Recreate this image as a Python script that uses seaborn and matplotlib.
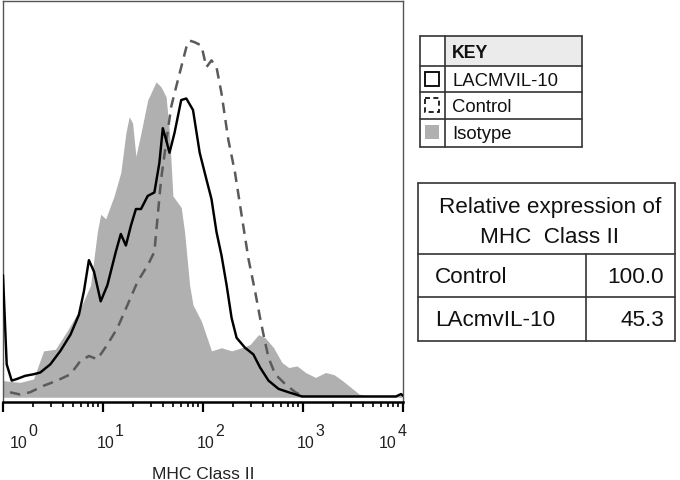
import numpy as np
import pandas as pd
import matplotlib
matplotlib.use('Agg')
import matplotlib.pyplot as plt
import matplotlib.transforms as mtransforms
from matplotlib.patches import Rectangle
import seaborn as sns

sns.set_style('white')
plt.rcParams['font.family'] = ['Liberation Sans', 'DejaVu Sans']

# histogram traces: log10(MHC Class II) and % of max
iso_log = [0.0, 0.17, 0.305, 0.406, 0.524, 0.641, 0.775, 0.876, 0.943, 0.977, 1.027, 1.111,
           1.178, 1.229, 1.262, 1.296, 1.329, 1.38, 1.447, 1.531, 1.581, 1.631, 1.665, 1.699,
           1.782, 1.816, 1.866, 1.9, 1.984, 2.085, 2.185, 2.286, 2.387, 2.471, 2.555, 2.622,
           2.706, 2.79, 2.857, 2.941, 3.025, 3.125, 3.226, 3.31, 3.394, 3.478, 3.562, 3.662,
           3.93, 4.0]
iso_pct = [4.2, 3.75, 4.6, 11.7, 12.1, 16.7, 22.5, 28.3, 41.7, 46.2, 45.0, 50.8,
           56.7, 66.7, 70.8, 69.2, 60.8, 66.7, 75.0, 79.6, 78.3, 75.8, 66.7, 50.8,
           47.9, 41.7, 28.3, 23.3, 19.2, 11.7, 12.5, 11.7, 12.5, 13.3, 15.8, 15.0,
           12.5, 8.75, 7.5, 7.9, 6.25, 5.0, 6.25, 5.7, 4.2, 2.5, 0.8, 0.2,
           0.2, 0.7]

il10_log = [0.0, 0.037, 0.087, 0.138, 0.221, 0.305, 0.373, 0.473, 0.574, 0.675, 0.759, 0.809,
            0.859, 0.91, 0.977, 1.044, 1.128, 1.178, 1.229, 1.279, 1.329, 1.38, 1.447, 1.514,
            1.564, 1.598, 1.631, 1.665, 1.715, 1.782, 1.833, 1.9, 1.967, 2.034, 2.085, 2.135,
            2.185, 2.236, 2.286, 2.336, 2.42, 2.504, 2.571, 2.655, 2.756, 2.857, 2.991, 3.93,
            3.98, 4.0]
il10_pct = [30.8, 8.3, 4.2, 4.6, 5.4, 5.8, 6.25, 8.3, 11.7, 15.8, 20.8, 26.7,
            34.6, 31.7, 24.2, 28.3, 36.7, 41.2, 38.3, 43.3, 47.5, 47.5, 50.8, 51.7,
            59.2, 67.9, 65.0, 61.7, 66.7, 75.0, 75.4, 72.5, 61.7, 55.0, 50.0, 41.7,
            35.8, 28.3, 20.0, 15.0, 12.5, 10.8, 7.5, 4.2, 2.1, 1.25, 0.2, 0.2,
            0.8, 0.4]

ctrl_log = [0.07, 0.17, 0.27, 0.406, 0.54, 0.675, 0.775, 0.859, 0.943, 1.044, 1.145, 1.245,
            1.346, 1.447, 1.514, 1.547, 1.581, 1.631, 1.682, 1.715, 1.782, 1.833, 1.866, 1.917,
            1.984, 2.034, 2.085, 2.135, 2.185, 2.253, 2.32, 2.387, 2.454, 2.521, 2.571, 2.605,
            2.655, 2.722, 2.823, 2.924, 2.991]
ctrl_pct = [1.25, 0.7, 1.25, 2.9, 4.2, 5.8, 9.2, 10.4, 9.6, 13.3, 17.5, 23.3,
            29.2, 33.3, 36.7, 45.8, 55.0, 64.2, 73.3, 76.7, 83.3, 88.3, 90.0, 89.6,
            88.75, 83.3, 85.0, 83.3, 76.7, 65.0, 56.7, 45.8, 35.0, 26.7, 20.0, 15.8,
            10.0, 5.8, 3.3, 1.25, 0.4]

key_labels = ['LACMVIL-10', 'Control', 'Isotype']
rel_title = ['Relative expression of', 'MHC  Class II']
rel_groups = ['Control', 'LAcmvIL-10']
rel_values = [100.0, 45.3]

decades = [0, 1, 2, 3, 4]

iso = pd.DataFrame({'x': np.power(10.0, iso_log), 'y': iso_pct})
il10 = pd.DataFrame({'x': np.power(10.0, il10_log), 'y': il10_pct})
ctrl = pd.DataFrame({'x': np.power(10.0, ctrl_log), 'y': ctrl_pct})

W, H = 680, 481
PT = 72 / 100  # points per pixel
fig = plt.figure(figsize=(W / 100, H / 100), dpi=100)
ax = fig.add_axes([3 / W, (H - 403) / H, 400 / W, 401 / H])

ax.fill_between(iso['x'], 0, iso['y'], color='#b0b0b0', lw=0, zorder=1)
sns.lineplot(data=ctrl, x='x', y='y', sort=False, ax=ax, color='#5a5a5a', lw=1.8, zorder=2)
ax.lines[-1].set_dashes([4.2, 2.8])
sns.lineplot(data=il10, x='x', y='y', sort=False, ax=ax, color='black', lw=1.75, zorder=3)

ax.set_xscale('log')
ax.set_xlim(1, 1e4)
ax.set_ylim(-1.2, 100)
ax.set_yticks([])
ax.set_ylabel('')
ax.set_xticks([10.0 ** d for d in decades])
ax.set_xticklabels(['10'] * len(decades), fontsize=11.5, color='#222222')
ax.tick_params(axis='x', which='major', direction='out', length=7, width=1.6,
               color='black', pad=17, bottom=True)
ax.tick_params(axis='x', which='minor', direction='out', length=3.5, width=1.2,
               color='black', bottom=True)
shifts = [15.5, 2.5, 2.5, 2.5, -15]
for lab, dx in zip(ax.get_xticklabels(), shifts):
    lab.set_transform(lab.get_transform() +
                      mtransforms.ScaledTranslation(dx / 100, 0, fig.dpi_scale_trans))
# exponents sit at full size, raised to the right of each "10"
for d, dx in zip(decades, shifts):
    ax.annotate(str(d), xy=(10.0 ** d, 0), xycoords=ax.get_xaxis_transform(),
                xytext=((dx + 14) * PT, -29 * PT), textcoords='offset points',
                ha='center', va='center', fontsize=11.5, color='#222222', annotation_clip=False)
ax.set_xlabel('MHC Class II', fontsize=12.5, color='#222222', labelpad=11)

for side in ['top', 'right', 'left']:
    ax.spines[side].set_color('#555555')
    ax.spines[side].set_linewidth(1.0)
ax.spines['bottom'].set_color('black')
ax.spines['bottom'].set_linewidth(1.8)

# tables on the right, drawn in figure pixel space
ov = fig.add_axes([0, 0, 1, 1], zorder=5)
ov.set_xlim(0, W)
ov.set_ylim(H, 0)
ov.axis('off')
ov.patch.set_alpha(0)

edge = '#333333'
kx = [420, 445, 582]
ky = [37, 67, 93, 120, 148]
ov.add_patch(Rectangle((kx[1], ky[0]), kx[2] - kx[1], ky[1] - ky[0], fc='#ebebeb', ec='none'))
for yy in ky:
    ov.plot([kx[0], kx[2]], [yy, yy], color=edge, lw=1.2)
for xx in [kx[0], kx[1], kx[2]]:
    ov.plot([xx, xx], [ky[0], ky[-1]], color=edge, lw=1.2)
ov.text(kx[1] + 7, (ky[0] + ky[1]) / 2 + 1, 'KEY', fontsize=12.8, fontweight='bold',
        ha='left', va='center', color='#111111')
for i, lab in enumerate(key_labels):
    ov.text(kx[1] + 7, (ky[i + 1] + ky[i + 2]) / 2 + 1, lab, fontsize=13.3,
            ha='left', va='center', color='#111111')
ov.add_patch(Rectangle((425, 73), 14, 14, fc='white', ec='black', lw=1.3))
ov.add_patch(Rectangle((425, 99), 14, 14, fc='white', ec='black', lw=1.2, ls=(0, (3, 2))))
ov.add_patch(Rectangle((425, 126), 14, 14, fc='#b0b0b0', ec='none'))

rx = [418, 586, 675]
ry = [184, 255, 298, 342]
for yy in ry:
    ov.plot([rx[0], rx[2]], [yy, yy], color=edge, lw=1.2)
ov.plot([rx[0], rx[0]], [ry[0], ry[-1]], color=edge, lw=1.2)
ov.plot([rx[2], rx[2]], [ry[0], ry[-1]], color=edge, lw=1.2)
ov.plot([rx[1], rx[1]], [ry[1], ry[-1]], color=edge, lw=1.2)
ov.text(550, 208, rel_title[0], fontsize=16.2, ha='center', va='center', color='#111111')
ov.text(550, 238, rel_title[1], fontsize=16.2, ha='center', va='center', color='#111111')
for i, (g, v) in enumerate(zip(rel_groups, rel_values)):
    yc = (ry[i + 1] + ry[i + 2]) / 2 + 1
    ov.text(435, yc, g, fontsize=16.2, ha='left', va='center', color='#111111')
    ov.text(664, yc, '%.1f' % v, fontsize=16.2, ha='right', va='center', color='#111111')

fig.savefig('out.png', dpi=100)
